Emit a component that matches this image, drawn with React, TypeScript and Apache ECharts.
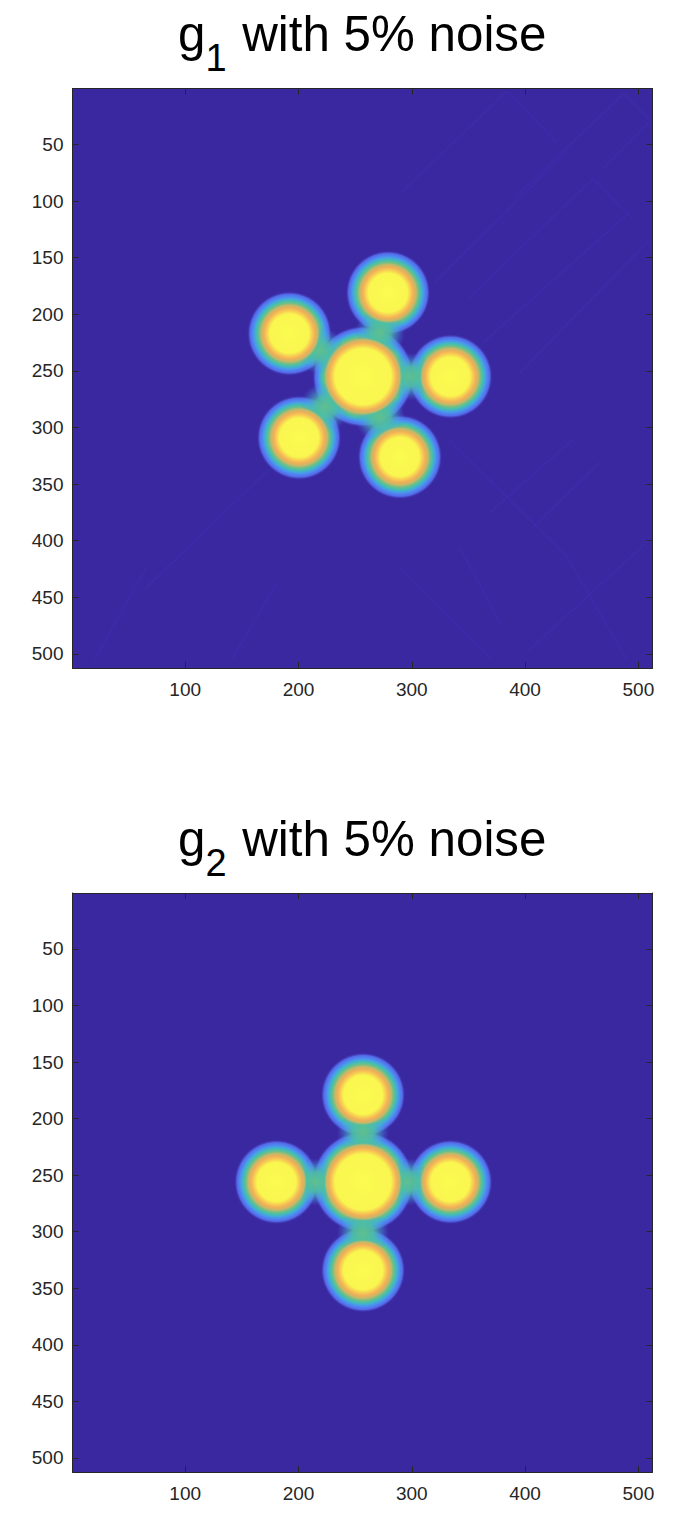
import React, { useEffect, useRef } from "react";
import * as echarts from "echarts";

// Every blob: [x, y, radius] in image pixels (the axes' units)
const blobsG1 = [
  [279, 181, 37.5],
  [192, 217, 37.5],
  [334, 255, 37.5],
  [200.5, 309, 37.5],
  [289.5, 326, 37.5],
  [257, 255, 45],
];
const blobsG2 = [
  [257, 179, 37.5],
  [180.5, 256, 37.5],
  [334, 256, 37.5],
  [257, 334, 37.5],
  [257, 256, 45],
];
// Necks where the blobs run together: [x, y, radius]
const necksG1 = [
  [272, 216, 22],
  [219, 232, 21],
  [299, 255, 21],
  [223.5, 282, 22],
  [272, 291, 22],
];
const necksG2 = [
  [257, 212, 23],
  [257, 301, 23],
  [215, 256, 21],
  [297, 256, 21],
];
// Faint artefact streaks in g1: [x1, y1, x2, y2]
const streaksG1 = [
  [437, 56, 319, 173],
  [384, 3, 290, 93],
  [487, 5, 392, 96],
  [460, 80, 349, 187],
  [510, 30, 468, 72],
  [492, 110, 363, 225],
  [510, 134, 395, 252],
  [384, 3, 428, 48],
  [487, 5, 510, 28],
  [460, 80, 495, 116],
  [333, 311, 437, 414],
  [437, 414, 490, 505],
  [342, 405, 378, 473],
  [289, 423, 371, 505],
  [510, 399, 401, 499],
  [466, 331, 407, 388],
  [442, 311, 369, 375],
  [66, 423, 20, 505],
  [181, 437, 141, 505],
  [174, 337, 64, 443],
];
const xTicks = [100, 200, 300, 400, 500];
const yTicks = [50, 100, 150, 200, 250, 300, 350, 400, 450, 500];
const subscripts = ["1", "2"];

const PX = 580 / 512;
const BG = "#3A28A1";
const INK = "#262626";
const FONT = "'Liberation Sans', Arial, sans-serif";
const CORE_INSET = 12; // px between a blob's edge and its warm core's edge

function blobGradient(r: number) {
  const R = r * PX;
  const at = (d: number) => (R - d) / R; // d px inside the edge
  return new echarts.graphic.RadialGradient(0.5, 0.5, 0.5, [
    { offset: 0, color: "#B8B868" },
    { offset: at(15), color: "#B8B868" },
    { offset: at(13), color: "#84BE7C" },
    { offset: at(10), color: "#48BFA8" },
    { offset: at(8), color: "#42ACD8" },
    { offset: at(6), color: "#4F8CF2" },
    { offset: at(3), color: "#5468E8" },
    { offset: 1, color: "rgba(58,40,161,0)" },
  ]);
}

function coreGradient(r: number) {
  const R = r * PX - CORE_INSET;
  const at = (d: number) => (R - d) / R; // d px inside the core's edge
  return new echarts.graphic.RadialGradient(0.5, 0.5, 0.5, [
    { offset: 0, color: "#FBFB50" },
    { offset: at(11), color: "#F9F650" },
    { offset: at(8), color: "#F7D052" },
    { offset: at(5), color: "#F2AF58" },
    { offset: at(2), color: "#BEB96A" },
    { offset: 1, color: "rgba(132,190,124,0)" },
  ]);
}

const neckGradient = new echarts.graphic.RadialGradient(0.5, 0.5, 0.5, [
  { offset: 0, color: "rgba(96,192,140,1)" },
  { offset: 0.4, color: "rgba(76,190,164,0.9)" },
  { offset: 0.75, color: "rgba(70,172,216,0.35)" },
  { offset: 1, color: "rgba(76,133,234,0)" },
]);

function panelAxes(i: number) {
  const base = { min: 0.5, max: 512.5, type: "value" as const, gridIndex: i, splitLine: { show: false } };
  const line = { show: true, onZero: false, lineStyle: { color: INK, width: 1 } };
  const tick = (customValues: number[]) => ({
    show: true,
    inside: true,
    length: 6,
    customValues,
    lineStyle: { color: INK, width: 1 },
  });
  const label = (customValues: number[], margin: number) => ({
    show: true,
    customValues,
    margin,
    color: INK,
    fontSize: 19,
    fontFamily: FONT,
  });
  return {
    x: [
      { ...base, position: "bottom" as const, axisLine: line, axisTick: tick(xTicks), axisLabel: label(xTicks, 12) },
      { ...base, position: "top" as const, axisLine: line, axisTick: tick(xTicks), axisLabel: { show: false } },
    ],
    y: [
      { ...base, inverse: true, position: "left" as const, axisLine: line, axisTick: tick(yTicks), axisLabel: label(yTicks, 9) },
      { ...base, inverse: true, position: "right" as const, axisLine: line, axisTick: tick(yTicks), axisLabel: { show: false } },
    ],
  };
}

function panelSeries(i: number, blobs: number[][], necks: number[][], streaks: number[][]) {
  const x = i * 2;
  const size = (v: number[]) => 2 * v[2] * PX;
  const common = { type: "scatter", xAxisIndex: x, yAxisIndex: x, silent: true, symbol: "circle" };
  return [
    {
      type: "lines",
      coordinateSystem: "cartesian2d",
      xAxisIndex: x,
      yAxisIndex: x,
      z: 2,
      silent: true,
      lineStyle: { color: "#5040D8", width: 1.5, opacity: 0.17 },
      data: streaks.map((s) => ({ coords: [[s[0], s[1]], [s[2], s[3]]] })),
    },
    {
      ...common,
      z: 3,
      symbolSize: size,
      data: blobs.map((b) => ({ value: b, itemStyle: { color: blobGradient(b[2]), opacity: 1 } })),
    },
    {
      ...common,
      z: 4,
      symbolSize: size,
      data: necks.map((n) => ({ value: n, itemStyle: { color: neckGradient, opacity: 1 } })),
    },
    {
      ...common,
      z: 5,
      symbolSize: (v: number[]) => 2 * (v[2] * PX - CORE_INSET),
      data: blobs.map((b) => ({ value: b, itemStyle: { color: coreGradient(b[2]), opacity: 1 } })),
    },
  ];
}

function titleFor(i: number, top: number) {
  return {
    left: 178,
    top,
    padding: 0,
    text: `{main|g}{sub|${subscripts[i]}}{main| with 5% noise}`,
    textStyle: {
      fontWeight: "normal",
      rich: {
        main: { fontFamily: FONT, fontWeight: "normal", fontSize: 49.3, color: "#000", lineHeight: 56, height: 56, verticalAlign: "top" },
        sub: { fontFamily: FONT, fontWeight: "normal", fontSize: 38, color: "#000", lineHeight: 56, height: 56, padding: [25, 2, 0, 0], verticalAlign: "top" },
      },
    },
  };
}

export default function App() {
  const ref = useRef<HTMLDivElement>(null);
  useEffect(() => {
    document.body.style.margin = "0";
    const chart = echarts.init(ref.current!, undefined, { renderer: "svg" });
    const a0 = panelAxes(0);
    const a1 = panelAxes(1);
    chart.setOption({
      animation: false,
      backgroundColor: "#fff",
      title: [titleFor(0, 5), titleFor(1, 810)],
      grid: [
        { left: 72.5, top: 88.5, width: 580, height: 579.5, show: true, backgroundColor: BG, borderWidth: 0 },
        { left: 72.5, top: 893, width: 580, height: 579, show: true, backgroundColor: BG, borderWidth: 0 },
      ],
      xAxis: [...a0.x, ...a1.x],
      yAxis: [...a0.y, ...a1.y],
      series: [
        ...panelSeries(0, blobsG1, necksG1, streaksG1),
        ...panelSeries(1, blobsG2, necksG2, []),
      ],
    });
    return () => chart.dispose();
  }, []);
  return <div ref={ref} style={{ width: 686, height: 1520 }} />;
}
